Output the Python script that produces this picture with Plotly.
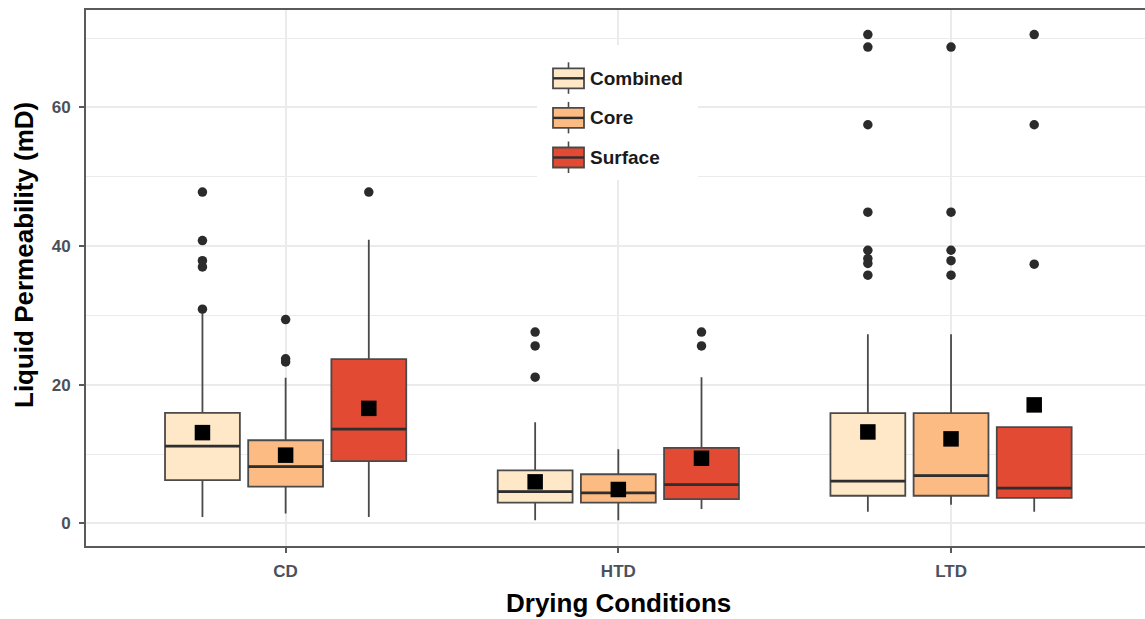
import plotly.graph_objects as go

# ---------------- data ----------------
categories = ["CD", "HTD", "LTD"]
groups = ["Combined", "Core", "Surface"]

# rows: Combined, Core, Surface ; columns: CD, HTD, LTD
q1 = [[6.25, 3.0, 4.0], [5.3, 3.0, 4.0], [9.0, 3.5, 3.7]]
median = [[11.15, 4.6, 6.1], [8.2, 4.4, 6.9], [13.6, 5.6, 5.1]]
q3 = [[15.95, 7.65, 15.9], [12.0, 7.1, 15.9], [23.7, 10.9, 13.9]]
lower_whisker = [[0.95, 0.45, 1.7], [1.45, 0.45, 2.7], [0.95, 2.1, 1.7]]
upper_whisker = [[30.2, 14.6, 27.3], [21.0, 10.7, 27.3], [40.9, 21.1, 13.9]]
means = [[13.1, 6.0, 13.2], [9.85, 4.9, 12.2], [16.6, 9.4, 17.1]]

outliers_combined = [[47.8, 40.8, 37.9, 37.0, 30.9], [27.6, 25.6, 21.1],
                     [70.5, 68.7, 57.5, 44.9, 39.4, 38.2, 37.5, 35.8]]
outliers_core = [[29.4, 23.75, 23.3], [], [68.7, 44.9, 39.4, 37.9, 35.8]]
outliers_surface = [[47.8], [27.6, 25.6], [70.5, 57.5, 37.4]]
outliers = [outliers_combined, outliers_core, outliers_surface]

y_ticks = [0, 20, 40, 60]

# ---------------- style ----------------
fills = ["#fee8c8", "#fdbb84", "#e34a33"]
BOX_LINE = "#4a4a4a"
MED_LINE = "#2e2e2e"
AX_COLOR = "#5a5a5a"
GRID = "#ebebeb"
FONT = "Arial, Liberation Sans, sans-serif"
TICK_COLOR = "#4a515c"

DODGE = 0.75
slot = DODGE / len(groups)
BOX_W = 0.9 * slot

W, H = 1145, 619
ML, MR, MT, MB = 86, 0, 10, 73
PW, PH = W - ML - MR, H - MT - MB


def pos(g, c):
    return c + (g - (len(groups) - 1) / 2) * slot


def px(xp):
    return (xp - ML) / PW


def py(yp):
    return (H - MB - yp) / PH


fig = go.Figure()

for g, name in enumerate(groups):
    xs = [pos(g, c) for c in range(len(categories))]
    fig.add_trace(go.Box(
        x=xs, q1=q1[g], median=median[g], q3=q3[g],
        lowerfence=lower_whisker[g], upperfence=upper_whisker[g],
        width=BOX_W, fillcolor=fills[g],
        line=dict(color=BOX_LINE, width=1.8), whiskerwidth=0,
        boxpoints=False, name=name, showlegend=False, hoverinfo="skip"))

# thicker median lines (ggplot style)
for g, name in enumerate(groups):
    mx, my = [], []
    for c in range(len(categories)):
        p = pos(g, c)
        mx += [p - BOX_W / 2, p + BOX_W / 2, None]
        my += [median[g][c], median[g][c], None]
    fig.add_trace(go.Scatter(x=mx, y=my, mode="lines",
                             line=dict(color=MED_LINE, width=2.8),
                             showlegend=False, hoverinfo="skip"))

# outliers
for g, name in enumerate(groups):
    ox, oy = [], []
    for c in range(len(categories)):
        ox += [pos(g, c)] * len(outliers[g][c])
        oy += outliers[g][c]
    fig.add_trace(go.Scatter(x=ox, y=oy, mode="markers",
                             marker=dict(symbol="circle", size=9.5, color="#2b2b2b"),
                             showlegend=False, hoverinfo="skip"))

# means
for g, name in enumerate(groups):
    fig.add_trace(go.Scatter(x=[pos(g, c) for c in range(len(categories))], y=means[g],
                             mode="markers",
                             marker=dict(symbol="square", size=15.5, color="black",
                                         line=dict(width=0)),
                             showlegend=False, hoverinfo="skip"))

# ---------------- custom legend (ggplot-like keys) ----------------
shapes = [dict(type="rect", xref="paper", yref="paper",
               x0=px(537), x1=px(698), y0=py(180), y1=py(45),
               fillcolor="white", line=dict(width=0), layer="above")]
annotations = []
for i, name in enumerate(groups):
    cy = 78.3 + 39.6 * i
    kx0, kx1 = 553, 584
    kc = (kx0 + kx1) / 2
    shapes.append(dict(type="line", xref="paper", yref="paper",
                       x0=px(kc), x1=px(kc), y0=py(cy - 16), y1=py(cy + 15.5),
                       line=dict(color=BOX_LINE, width=1.6), layer="above"))
    shapes.append(dict(type="rect", xref="paper", yref="paper",
                       x0=px(kx0), x1=px(kx1), y0=py(cy + 10), y1=py(cy - 10),
                       fillcolor=fills[i], line=dict(color=BOX_LINE, width=1.8),
                       layer="above"))
    shapes.append(dict(type="line", xref="paper", yref="paper",
                       x0=px(kx0), x1=px(kx1), y0=py(cy), y1=py(cy),
                       line=dict(color=MED_LINE, width=2.4), layer="above"))
    annotations.append(dict(text=name, xref="paper", yref="paper",
                            x=px(588), y=py(cy), xanchor="left", yanchor="middle",
                            showarrow=False,
                            font=dict(family=FONT, size=19, color="#1a1a1a",
                                      weight="bold")))

annotations.append(dict(text="Liquid Permeability (mD)", xref="paper", yref="paper",
                        x=px(24), y=py(255), textangle=-90,
                        xanchor="center", yanchor="middle", showarrow=False,
                        font=dict(family=FONT, size=26, color="black", weight="bold")))
annotations.append(dict(text="Drying Conditions", xref="paper", yref="paper",
                        x=px(618), y=py(603),
                        xanchor="center", yanchor="middle", showarrow=False,
                        font=dict(family=FONT, size=26, color="black", weight="bold")))

fig.update_layout(
    width=W, height=H, autosize=False,
    margin=dict(l=ML, r=MR, t=MT, b=MB, pad=0),
    plot_bgcolor="white", paper_bgcolor="white",
    showlegend=False,
    shapes=shapes, annotations=annotations,
    xaxis=dict(range=[-0.6, 2.583], tickmode="array",
               tickvals=list(range(len(categories))), ticktext=categories,
               showgrid=True, gridcolor=GRID, gridwidth=1.5, zeroline=False,
               showline=True, linecolor=AX_COLOR, linewidth=2, mirror=True,
               ticks="outside", ticklen=5, tickwidth=1.5, tickcolor=AX_COLOR,
               ticklabelstandoff=4, automargin=False,
               tickfont=dict(family=FONT, size=17, color=TICK_COLOR, weight="bold")),
    yaxis=dict(range=[-3.25, 74.05], tickmode="array", tickvals=y_ticks,
               showgrid=True, gridcolor=GRID, gridwidth=1.5, zeroline=False,
               minor=dict(dtick=10, tick0=0, showgrid=True, gridcolor=GRID,
                          gridwidth=1.3, ticks=""),
               showline=True, linecolor=AX_COLOR, linewidth=2,
               ticks="outside", ticklen=5, tickwidth=1.5, tickcolor=AX_COLOR,
               ticklabelstandoff=5, automargin=False,
               tickfont=dict(family=FONT, size=17, color=TICK_COLOR, weight="bold")),
)

fig.write_html("out.html")
